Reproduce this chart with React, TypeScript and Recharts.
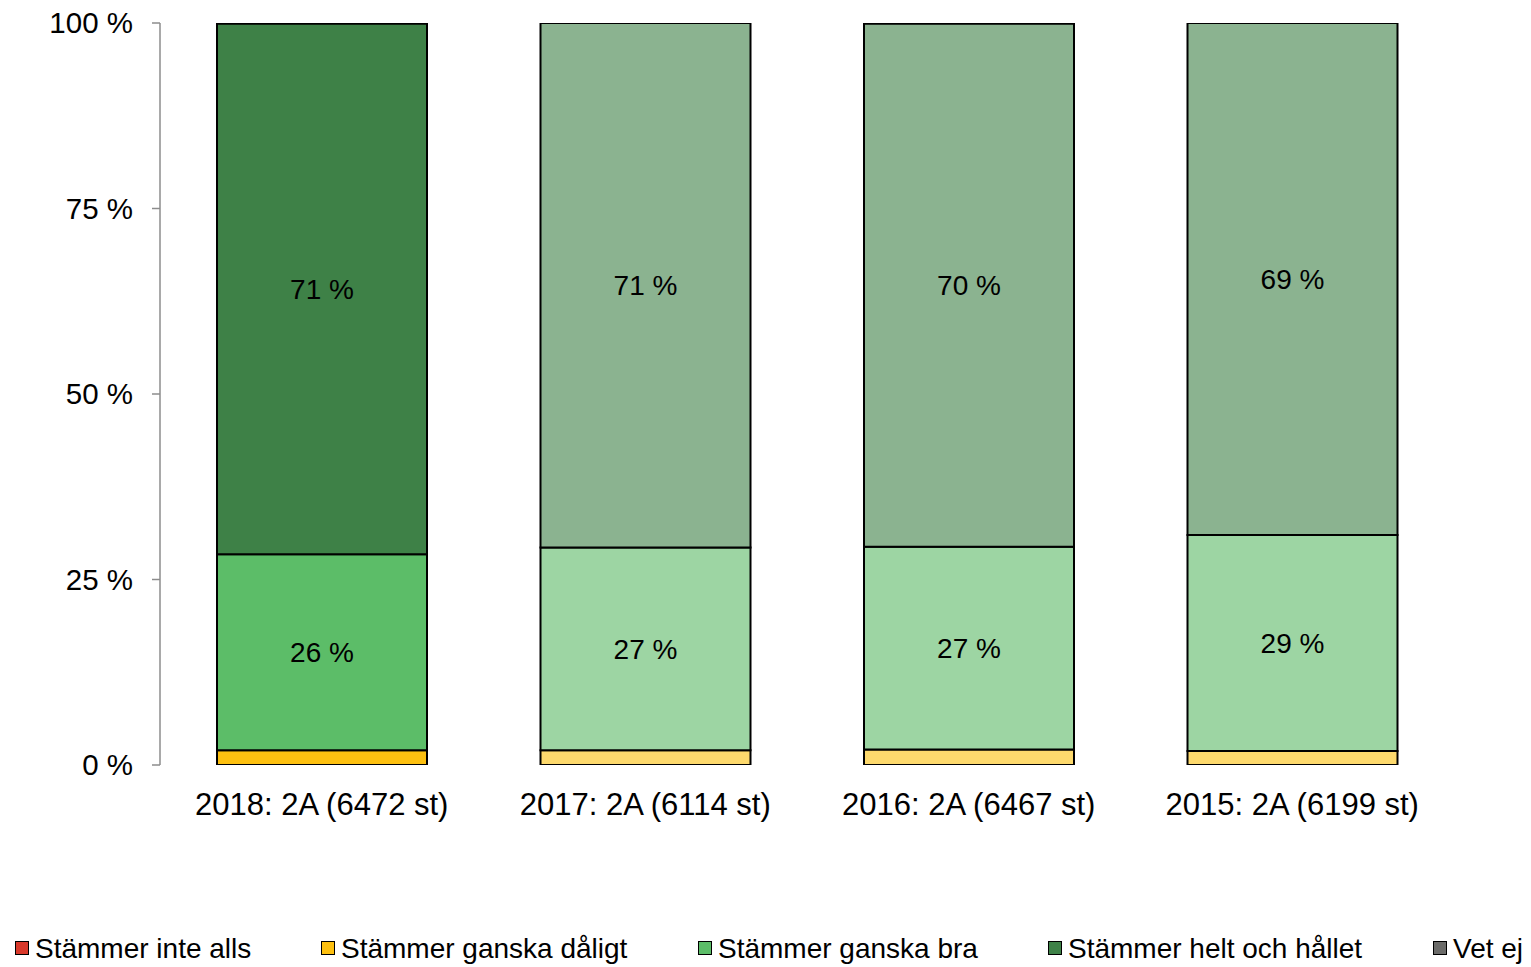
import React from 'react';
import { BarChart, Bar, XAxis, YAxis, Cell, LabelList } from 'recharts';

const categories = ['2018: 2A (6472 st)', '2017: 2A (6114 st)', '2016: 2A (6467 st)', '2015: 2A (6199 st)'];
const inteAlls = [0, 0, 0, 0];
const gankaDaligt = [2.0, 2.0, 2.1, 1.9];
const ganskaBra = [26.4, 27.3, 27.3, 29.1];
const heltOchHallet = [71.49, 70.7, 70.49, 69.0];
const vetEj = [0, 0, 0, 0];
const yTicks = [0, 25, 50, 75, 100];

const seriesNames = ['Stämmer inte alls', 'Stämmer ganska dåligt', 'Stämmer ganska bra', 'Stämmer helt och hållet', 'Vet ej'];
const seriesKeys = ['inteAlls', 'ganskaDaligt', 'ganskaBra', 'heltOchHallet', 'vetEj'];
const mainColors = ['#d9392b', '#fdc010', '#5cbd68', '#3e8147', '#6b6b69'];
const fadedColors = ['#e89a92', '#fdd96d', '#9dd5a3', '#8bb390', '#b0b0ae'];

const data = categories.map((c, i) => ({
  name: c,
  inteAlls: inteAlls[i],
  ganskaDaligt: gankaDaligt[i],
  ganskaBra: ganskaBra[i],
  heltOchHallet: heltOchHallet[i],
  vetEj: vetEj[i],
}));

const font = '"Liberation Sans", Arial, sans-serif';

const legendPos = [
  { sq: 15, tx: 35 },
  { sq: 321, tx: 341 },
  { sq: 698, tx: 718 },
  { sq: 1048, tx: 1068 },
  { sq: 1433, tx: 1453 },
];

const fmt = (v: any) => (typeof v === 'number' && v > 5 ? `${Math.round(v)} %` : '');

export default function App() {
  return (
    <div style={{ position: 'absolute', left: 0, top: 0, width: 1531, height: 967, background: '#fff', fontFamily: font }}>
      <BarChart
        width={1531}
        height={967}
        data={data}
        margin={{ top: 23, right: 77, left: 0, bottom: 0 }}
        barSize={210}
      >
        <XAxis
          dataKey="name"
          axisLine={false}
          tickLine={false}
          tickSize={0}
          tickMargin={28}
          height={202}
          interval={0}
          tick={{ fill: '#000', fontSize: 31, fontFamily: font }}
        />
        <YAxis
          type="number"
          domain={[0, 100]}
          ticks={yTicks}
          width={160}
          axisLine={{ stroke: '#8c8c8c', strokeWidth: 1.5 }}
          tickLine={{ stroke: '#8c8c8c', strokeWidth: 1.5 }}
          tickSize={8}
          tickMargin={19}
          tickFormatter={(v: number) => `${v} %`}
          tick={{ fill: '#000', fontSize: 29.5, fontFamily: font }}
          allowDataOverflow
        />
        {seriesKeys.map((k, si) => (
          <Bar key={k} dataKey={k} name={seriesNames[si]} stackId="a" isAnimationActive={false} stroke="#000" strokeWidth={2}>
            {data.map((_, ci) => (
              <Cell key={ci} fill={ci === 0 ? mainColors[si] : fadedColors[si]} />
            ))}
            <LabelList dataKey={k} position="center" formatter={fmt} fill="#000" fontSize={28} fontFamily={font} />
          </Bar>
        ))}
      </BarChart>
      {seriesNames.map((n, i) => (
        <div key={n} style={{ position: 'absolute', left: 0, top: 931, height: 36 }}>
          <div
            style={{
              position: 'absolute',
              left: legendPos[i].sq,
              top: 10,
              width: 12,
              height: 12,
              background: mainColors[i],
              border: '1.5px solid #000',
            }}
          />
          <div
            style={{
              position: 'absolute',
              left: legendPos[i].tx,
              top: 0,
              fontSize: 28,
              lineHeight: '36px',
              whiteSpace: 'nowrap',
              color: '#000',
              fontFamily: font,
            }}
          >
            {n}
          </div>
        </div>
      ))}
    </div>
  );
}
